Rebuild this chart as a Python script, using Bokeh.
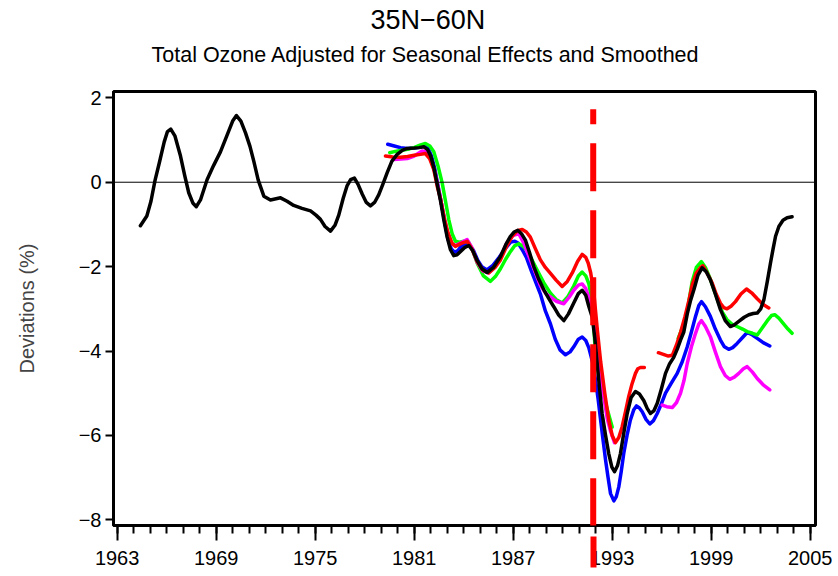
from bokeh.plotting import figure
from bokeh.models import FixedTicker, Span, Arrow, Title, LinearAxis
from bokeh.embed import file_html
from bokeh.resources import INLINE

# --- data: smoothed total-ozone deviations (%), 35N-60N ---
black_year = [1964.41, 1964.80, 1965.05, 1965.30, 1965.55, 1965.85, 1966.05, 1966.25, 1966.50, 1966.84,
              1967.10, 1967.34, 1967.60, 1967.80, 1968.05, 1968.45, 1968.85, 1969.26, 1969.70, 1970.00,
              1970.23, 1970.50, 1970.78, 1971.05, 1971.28, 1971.55, 1971.89, 1972.29, 1972.90, 1973.30,
              1973.70, 1974.20, 1974.72, 1975.05, 1975.32, 1975.60, 1975.93, 1976.20, 1976.43, 1976.70,
              1976.94, 1977.15, 1977.38, 1977.60, 1977.85, 1978.10, 1978.35, 1978.60, 1978.85, 1979.10,
              1979.36, 1979.65, 1979.97, 1980.30, 1980.58, 1981.00, 1981.30, 1981.58, 1981.80, 1982.00,
              1982.19, 1982.40, 1982.60, 1982.80, 1983.00, 1983.20, 1983.40, 1983.60, 1983.81, 1984.05,
              1984.31, 1984.55, 1984.82, 1985.10, 1985.42, 1985.80, 1986.23, 1986.55, 1986.84, 1987.05,
              1987.28, 1987.50, 1987.75, 1988.00, 1988.25, 1988.55, 1988.86, 1989.16, 1989.46, 1989.76,
              1990.07, 1990.35, 1990.67, 1990.95, 1991.18, 1991.40, 1991.58, 1991.79, 1991.95, 1992.09,
              1992.25, 1992.39, 1992.60, 1992.79, 1992.98, 1993.14, 1993.32, 1993.50, 1993.70, 1993.91,
              1994.15, 1994.41, 1994.65, 1994.92, 1995.12, 1995.32, 1995.52, 1995.73, 1995.98, 1996.23,
              1996.48, 1996.73, 1996.95, 1997.14, 1997.34, 1997.55, 1997.75, 1997.95, 1998.20, 1998.45,
              1998.70, 1998.95, 1999.25, 1999.56, 1999.85, 2000.16, 2000.40, 2000.67, 2001.00, 2001.28,
              2001.55, 2001.79, 2002.00, 2002.19, 2002.40, 2002.59, 2002.75, 2002.90, 2003.10, 2003.35,
              2003.60, 2003.90]
black_val = [-1.03, -0.80, -0.45, 0.05, 0.45, 0.95, 1.20, 1.26, 1.10, 0.62,
             0.15, -0.25, -0.50, -0.58, -0.42, 0.06, 0.40, 0.72, 1.15, 1.45,
             1.58, 1.45, 1.17, 0.85, 0.50, 0.05, -0.33, -0.42, -0.37, -0.45,
             -0.55, -0.62, -0.68, -0.78, -0.88, -1.05, -1.16, -1.02, -0.78, -0.38,
             -0.08, 0.06, 0.10, -0.05, -0.28, -0.48, -0.56, -0.48, -0.30, -0.05,
             0.22, 0.50, 0.66, 0.76, 0.80, 0.81, 0.82, 0.84, 0.78, 0.62,
             0.35, -0.05, -0.45, -0.90, -1.30, -1.60, -1.74, -1.72, -1.64, -1.55,
             -1.50, -1.62, -1.86, -2.05, -2.14, -2.02, -1.76, -1.48, -1.28, -1.18,
             -1.14, -1.22, -1.38, -1.68, -2.00, -2.30, -2.55, -2.76, -2.95, -3.15,
             -3.28, -3.12, -2.86, -2.64, -2.56, -2.68, -2.94, -3.20, -3.70, -4.29,
             -4.95, -5.48, -6.00, -6.43, -6.75, -6.86, -6.72, -6.43, -5.95, -5.48,
             -5.10, -4.96, -5.02, -5.18, -5.36, -5.48, -5.42, -5.24, -4.90, -4.53,
             -4.30, -4.15, -3.95, -3.74, -3.55, -3.12, -2.80, -2.55, -2.20, -2.03,
             -2.12, -2.31, -2.65, -3.02, -3.28, -3.42, -3.38, -3.30, -3.20, -3.14,
             -3.11, -3.10, -3.00, -2.79, -2.35, -1.92, -1.58, -1.28, -1.05, -0.90,
             -0.84, -0.82]

blue_year = [1979.40, 1979.80, 1980.17, 1980.60, 1981.00, 1981.30, 1981.60, 1981.85, 1982.05, 1982.25,
             1982.45, 1982.65, 1982.85, 1983.05, 1983.25, 1983.45, 1983.65, 1983.85, 1984.10, 1984.35,
             1984.60, 1984.85, 1985.10, 1985.40, 1985.75, 1986.15, 1986.50, 1986.85, 1987.10, 1987.30,
             1987.55, 1987.80, 1988.10, 1988.40, 1988.65, 1988.95, 1989.26, 1989.55, 1989.85, 1990.17,
             1990.45, 1990.67, 1990.95, 1991.18, 1991.40, 1991.58, 1991.80, 1991.99, 1992.15, 1992.30,
             1992.45, 1992.60, 1992.75, 1992.90, 1993.10, 1993.25, 1993.40, 1993.55, 1993.70, 1993.90,
             1994.10, 1994.30, 1994.47, 1994.65, 1994.82, 1995.05, 1995.28, 1995.50, 1995.73, 1995.98,
             1996.23, 1996.60, 1996.94, 1997.25, 1997.55, 1997.80, 1998.05, 1998.25, 1998.41, 1998.65,
             1998.95, 1999.25, 1999.56, 1999.80, 2000.06, 2000.30, 2000.57, 2000.90, 2001.18, 2001.50,
             2001.79, 2002.15, 2002.55]
blue_val = [0.90, 0.86, 0.82, 0.80, 0.81, 0.83, 0.86, 0.80, 0.62, 0.32,
            -0.10, -0.50, -0.95, -1.35, -1.58, -1.66, -1.62, -1.52, -1.45, -1.48,
            -1.62, -1.85, -2.00, -2.08, -1.98, -1.78, -1.58, -1.42, -1.40, -1.44,
            -1.60, -1.78, -2.10, -2.40, -2.65, -3.05, -3.36, -3.72, -3.98, -4.09,
            -4.02, -3.90, -3.72, -3.67, -3.75, -3.92, -4.25, -4.69, -5.15, -5.64,
            -6.12, -6.59, -7.00, -7.38, -7.55, -7.45, -7.22, -6.85, -6.43, -6.00,
            -5.64, -5.40, -5.30, -5.35, -5.44, -5.62, -5.73, -5.65, -5.48, -5.25,
            -5.00, -4.75, -4.53, -4.25, -3.90, -3.55, -3.18, -2.92, -2.83, -2.95,
            -3.18, -3.48, -3.74, -3.90, -3.96, -3.92, -3.82, -3.68, -3.56, -3.62,
            -3.70, -3.80, -3.88]

green1_year = [1979.52, 1979.85, 1980.17, 1980.60, 1981.00, 1981.35, 1981.68, 1981.95, 1982.19, 1982.45,
               1982.70, 1982.90, 1983.10, 1983.30, 1983.50, 1983.75, 1984.00, 1984.30, 1984.55, 1984.82,
               1985.20, 1985.62, 1985.95, 1986.23, 1986.55, 1986.84, 1987.10, 1987.34, 1987.60, 1987.85,
               1988.15, 1988.45, 1988.85, 1989.26, 1989.60, 1989.97, 1990.30, 1990.67, 1990.95, 1991.18,
               1991.40, 1991.58, 1991.75, 1991.90, 1992.00, 1992.25, 1992.49, 1992.75, 1993.00]
green1_val = [0.70, 0.73, 0.75, 0.78, 0.82, 0.88, 0.92, 0.86, 0.72, 0.38,
              -0.02, -0.45, -0.89, -1.22, -1.40, -1.42, -1.40, -1.42, -1.62, -1.92,
              -2.22, -2.35, -2.22, -2.05, -1.82, -1.64, -1.50, -1.46, -1.52, -1.62,
              -1.85, -2.08, -2.38, -2.63, -2.78, -2.86, -2.72, -2.46, -2.22, -2.13,
              -2.22, -2.40, -2.75, -3.50, -4.20, -4.70, -5.08, -5.45, -5.80]

green2_year = [1997.00, 1997.30, 1997.55, 1997.85, 1998.10, 1998.40, 1998.65, 1998.90, 1999.20, 1999.46,
               1999.70, 1999.96, 2000.25, 2000.57, 2000.90, 2001.18, 2001.50, 2001.79, 2002.10, 2002.40,
               2002.65, 2002.85, 2003.10, 2003.40, 2003.65, 2003.90]
green2_val = [-3.70, -3.40, -3.05, -2.35, -2.02, -1.88, -2.02, -2.25, -2.58, -2.87,
              -3.10, -3.26, -3.36, -3.42, -3.48, -3.54, -3.58, -3.62, -3.45, -3.28,
              -3.16, -3.14, -3.22, -3.36, -3.48, -3.58]

magenta1_year = [1979.76, 1980.20, 1980.58, 1981.00, 1981.48, 1981.75, 1982.00, 1982.25, 1982.50, 1982.75,
                 1983.00, 1983.25, 1983.50, 1983.80, 1984.21, 1984.50, 1984.82, 1985.15, 1985.52, 1985.90,
                 1986.23, 1986.60, 1987.00, 1987.34, 1987.65, 1988.00, 1988.25, 1988.65, 1989.00, 1989.26,
                 1989.60, 1990.07, 1990.40, 1990.67, 1990.95, 1991.18, 1991.40, 1991.60, 1991.85, 1992.05,
                 1992.25, 1992.49, 1992.70, 1992.90, 1993.14]
magenta1_val = [0.54, 0.55, 0.56, 0.62, 0.74, 0.72, 0.55, 0.25, -0.20, -0.70,
                -1.15, -1.45, -1.50, -1.44, -1.36, -1.55, -1.90, -2.10, -2.15, -1.98,
                -1.78, -1.45, -1.26, -1.22, -1.45, -1.80, -2.05, -2.45, -2.65, -2.72,
                -2.82, -2.88, -2.72, -2.56, -2.44, -2.41, -2.52, -2.75, -3.20, -3.90,
                -4.55, -5.08, -5.60, -5.90, -6.17]

magenta2_year = [1996.03, 1996.30, 1996.64, 1996.90, 1997.14, 1997.35, 1997.55, 1997.80, 1998.05, 1998.25,
                 1998.41, 1998.65, 1998.95, 1999.25, 1999.56, 1999.85, 2000.12, 2000.40, 2000.67, 2000.95,
                 2001.18, 2001.50, 2001.79, 2002.15, 2002.55]
magenta2_val = [-5.28, -5.32, -5.34, -5.22, -5.00, -4.70, -4.29, -3.90, -3.58, -3.36,
                -3.28, -3.42, -3.66, -4.02, -4.37, -4.58, -4.67, -4.62, -4.53, -4.42,
                -4.37, -4.50, -4.65, -4.80, -4.92]

red1_year = [1979.26, 1979.70, 1980.17, 1980.60, 1981.00, 1981.38, 1981.68, 1981.95, 1982.19, 1982.40,
             1982.60, 1982.85, 1983.05, 1983.30, 1983.50, 1983.85, 1984.21, 1984.50, 1984.82, 1985.15,
             1985.52, 1985.90, 1986.23, 1986.60, 1986.94, 1987.25, 1987.55, 1987.80, 1988.04, 1988.35,
             1988.65, 1988.95, 1989.26, 1989.60, 1989.97, 1990.28, 1990.58, 1990.90, 1991.18, 1991.40,
             1991.55, 1991.70, 1991.90, 1992.10, 1992.30, 1992.55, 1992.80, 1993.00, 1993.20, 1993.40,
             1993.60, 1993.80, 1994.00, 1994.20, 1994.41, 1994.55, 1994.71, 1994.95]
red1_val = [0.62, 0.60, 0.59, 0.61, 0.64, 0.66, 0.68, 0.55, 0.30, -0.10,
            -0.40, -0.90, -1.20, -1.45, -1.52, -1.45, -1.40, -1.58, -1.88, -2.08,
            -2.15, -2.02, -1.84, -1.52, -1.28, -1.15, -1.12, -1.18, -1.30, -1.58,
            -1.84, -2.02, -2.16, -2.32, -2.47, -2.35, -2.15, -1.88, -1.71, -1.78,
            -1.92, -2.15, -2.67, -3.50, -4.25, -5.00, -5.65, -6.00, -6.17, -6.05,
            -5.80, -5.45, -5.08, -4.78, -4.53, -4.42, -4.39, -4.39]

red2_year = [1995.80, 1996.10, 1996.40, 1996.65, 1996.90, 1997.15, 1997.40, 1997.65, 1997.85, 1998.10,
             1998.35, 1998.50, 1998.75, 1999.06, 1999.30, 1999.56, 1999.76, 1999.96, 2000.20, 2000.47,
             2000.80, 2001.14, 2001.45, 2001.79, 2002.15, 2002.49]
red2_val = [-4.04, -4.08, -4.12, -4.10, -3.85, -3.55, -3.20, -2.80, -2.43, -2.15,
            -2.02, -1.98, -2.15, -2.39, -2.65, -2.87, -2.97, -3.00, -2.94, -2.83,
            -2.65, -2.53, -2.62, -2.76, -2.90, -2.98]

pinatubo_year = 1991.85

x_major_ticks = [1963, 1969, 1975, 1981, 1987, 1993, 1999, 2005]
x_minor_ticks = list(range(1963, 2006))
y_ticks = [-8, -6, -4, -2, 0, 2]
y_tick_labels = {-8: "\u22128", -6: "\u22126", -4: "\u22124", -2: "\u22122", 0: "0", 2: "2"}

title_text = "35N\u221260N"
subtitle_text = "Total Ozone Adjusted for Seasonal Effects and Smoothed"
y_label_text = "Deviations (%)"

FONT = "Liberation Sans"
LINE_W = 3.5

p = figure(width=838, height=576, title=None,
           x_range=(1962.78, 2005.32), y_range=(-8.135, 2.15),
           output_backend="svg", toolbar_location=None,
           min_border_left=113, min_border_right=23,
           min_border_top=91, min_border_bottom=51)

p.xgrid.visible = False
p.ygrid.visible = False
p.outline_line_color = "black"
p.outline_line_width = 3
p.background_fill_color = "white"
p.border_fill_color = "white"

# x axis: major ticks every 6 years, minor every year
p.xaxis.ticker = FixedTicker(ticks=x_major_ticks, minor_ticks=x_minor_ticks)
p.xaxis.major_tick_out = 15
p.xaxis.major_tick_in = 0
p.xaxis.minor_tick_out = 8
p.xaxis.minor_tick_in = 0
p.xaxis.major_tick_line_width = 2
p.xaxis.minor_tick_line_width = 2
p.xaxis.major_label_standoff = 10

# y axis
p.yaxis.ticker = FixedTicker(ticks=y_ticks, minor_ticks=[])
p.yaxis.major_label_overrides = y_tick_labels
p.yaxis.major_tick_out = 8
p.yaxis.major_tick_in = 0
p.yaxis.major_tick_line_width = 2
p.yaxis.minor_tick_line_color = None
p.yaxis.major_label_standoff = 4
p.yaxis.axis_label = y_label_text
p.yaxis.axis_label_standoff = 38
p.yaxis.axis_label_text_font = FONT
p.yaxis.axis_label_text_font_size = "20px"
p.yaxis.axis_label_text_font_style = "normal"

for ax in (p.xaxis, p.yaxis):
    ax.axis_line_color = "black"
    ax.axis_line_width = 3
    ax.major_label_text_font = FONT
    ax.major_label_text_font_size = "20px"
    ax.major_label_text_color = "black"

# zero reference line
p.add_layout(Span(location=0, dimension="width", line_color="black", line_width=1))

style = dict(line_width=LINE_W, line_join="round", line_cap="round")
p.line(blue_year, blue_val, line_color="#0000FF", **style)
p.line(green1_year, green1_val, line_color="#00FF00", **style)
p.line(green2_year, green2_val, line_color="#00FF00", **style)
p.line(magenta1_year, magenta1_val, line_color="#FF00FF", **style)
p.line(magenta2_year, magenta2_val, line_color="#FF00FF", **style)
p.line(red1_year, red1_val, line_color="#FF0000", **style)
p.line(red2_year, red2_val, line_color="#FF0000", **style)
p.line(black_year, black_val, line_color="black", **style)

# Pinatubo eruption marker (inside the frame)
p.add_layout(Arrow(end=None, x_start=pinatubo_year, y_start=1.727,
                   x_end=pinatubo_year, y_end=-9.45,
                   line_color="#FF0000", line_width=6,
                   line_dash="48 19", line_dash_offset=33))

# the marker's last dash runs on below the axis, across the tick labels:
# drawn as the single inward tick of a bare outer axis
marker_axis = LinearAxis(ticker=FixedTicker(ticks=[pinatubo_year], minor_ticks=[]),
                         major_label_overrides={pinatubo_year: ""},
                         major_label_text_font_size="1px", major_label_standoff=0,
                         axis_line_color=None, minor_tick_line_color=None,
                         major_tick_out=0, major_tick_in=31,
                         major_tick_line_color="#FF0000", major_tick_line_width=6,
                         major_tick_line_cap="butt")
p.add_layout(marker_axis, "below")

# two-line heading, centred on the page rather than on the frame
spacer = Title(text=" ", standoff=7, text_font=FONT, text_font_size="10px")
subtitle = Title(text=subtitle_text, align="left", offset=38, standoff=8,
                 vertical_align="middle",
                 text_font=FONT, text_font_size="21.5px", text_font_style="normal",
                 text_color="black")
main_title = Title(text=title_text, align="left", offset=257, standoff=4,
                   vertical_align="middle",
                   text_font=FONT, text_font_size="27px", text_font_style="normal",
                   text_color="black")
p.add_layout(spacer, "above")
p.add_layout(subtitle, "above")
p.add_layout(main_title, "above")

open("out.html", "w").write(file_html(p, INLINE))
